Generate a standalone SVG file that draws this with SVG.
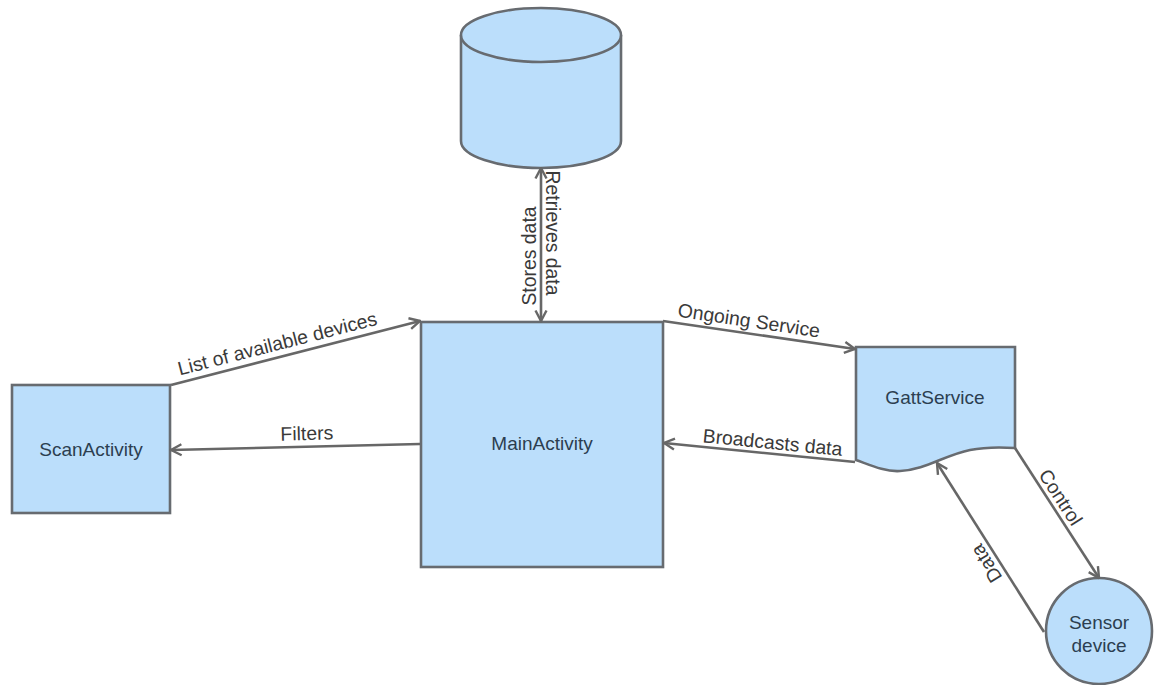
<svg xmlns="http://www.w3.org/2000/svg" width="1163" height="685" viewBox="0 0 1163 685">
  <style>
    .node { fill: #bbdefb; stroke: #676b70; stroke-width: 2.6; }
    .label { font-family: "Liberation Sans", Arial, sans-serif; font-size: 19px; fill: #2c3e50; text-anchor: middle; }
    .edge { fill: none; stroke: #676767; stroke-width: 2.6; }
    .elabel { font-family: "Liberation Sans", Arial, sans-serif; font-size: 19.4px; fill: #3a3a3a; text-anchor: middle; }
  </style>
  <defs>
    <marker id="arrow" viewBox="0 0 14 14" refX="12.5" refY="7" markerWidth="14" markerHeight="14" markerUnits="userSpaceOnUse" orient="auto-start-reverse">
      <path d="M2,1.5 L12.5,7 L2,12.5" fill="none" stroke="#676767" stroke-width="2.4" stroke-linejoin="miter"/>
    </marker>
  </defs>
  <rect width="1163" height="685" fill="#ffffff"/>

  <!-- database cylinder -->
  <g id="database">
    <path class="node" d="M461,35 V141 A80,27 0 0 0 621,141 V35"/>
    <ellipse class="node" cx="541" cy="35" rx="80" ry="27"/>
  </g>

  <g id="main-activity">
    <rect class="node" x="421" y="322" width="242" height="245"/>
    <text class="label" x="542" y="450">MainActivity</text>
  </g>

  <g id="scan-activity">
    <rect class="node" x="12" y="385" width="158" height="128"/>
    <text class="label" x="91" y="456">ScanActivity</text>
  </g>

  <g id="gatt-service">
    <path class="node" d="M856,347 H1015 V448 C1000,447 985,447 970,450 C945,455 925,470 900,471 C885,472 870,465 856,460 Z"/>
    <text class="label" x="935" y="404">GattService</text>
  </g>

  <g id="sensor-device">
    <circle class="node" cx="1099" cy="631" r="53"/>
    <text class="label" x="1099" y="629">Sensor</text>
    <text class="label" x="1099" y="652">device</text>
  </g>

  <g id="connectors">
    <line class="edge" x1="541" y1="168" x2="541" y2="321" marker-start="url(#arrow)" marker-end="url(#arrow)"/>
    <text class="elabel" transform="rotate(90 546 233)" x="546" y="233">Retrieves data</text>
    <text class="elabel" transform="rotate(-90 536 256)" x="536" y="256">Stores data</text>

    <line class="edge" x1="171" y1="385" x2="420" y2="321" marker-end="url(#arrow)"/>
    <text class="elabel" transform="rotate(-14.4 279 350)" x="279" y="350">List of available devices</text>

    <line class="edge" x1="420" y1="444" x2="171" y2="450" marker-end="url(#arrow)"/>
    <text class="elabel" transform="rotate(-1.4 307 440)" x="307" y="440">Filters</text>

    <line class="edge" x1="663" y1="321" x2="855" y2="349" marker-end="url(#arrow)"/>
    <text class="elabel" transform="rotate(8.5 748 327)" x="748" y="327">Ongoing Service</text>

    <line class="edge" x1="855" y1="462" x2="664" y2="443" marker-end="url(#arrow)"/>
    <text class="elabel" transform="rotate(5.6 772 449)" x="772" y="449">Broadcasts data</text>

    <line class="edge" x1="1015" y1="448" x2="1099" y2="578" marker-end="url(#arrow)"/>
    <text class="elabel" transform="rotate(57 1055 501)" x="1055" y="501">Control</text>

    <line class="edge" x1="1044" y1="632" x2="937" y2="463" marker-end="url(#arrow)"/>
    <text class="elabel" transform="rotate(238 992 560)" x="992" y="560">Data</text>
  </g>
</svg>
